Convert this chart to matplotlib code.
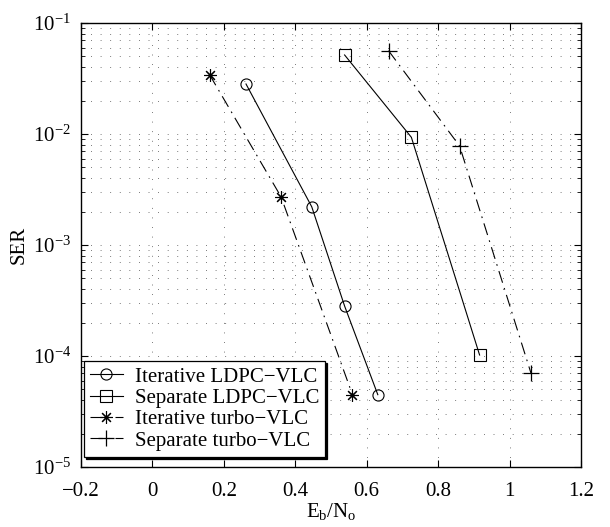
import matplotlib

matplotlib.use("Agg")
import matplotlib.pyplot as plt
from matplotlib.ticker import LogLocator, NullFormatter

plt.rcParams.update(
    {
        "font.family": "Liberation Serif",
        "mathtext.fontset": "custom",
        "mathtext.rm": "Liberation Serif",
        "mathtext.it": "Liberation Serif:italic",
        "font.size": 14,
    }
)

# Eb/No values and SER
iter_ldpc_x = [0.262, 0.446, 0.538, 0.631]
iter_ldpc_y = [2.82e-2, 2.21e-3, 2.82e-4, 4.48e-5]

sep_ldpc_x = [0.538, 0.725, 0.916]
sep_ldpc_y = [5.15e-2, 9.33e-3, 1.02e-4]

iter_turbo_x = [0.160, 0.360, 0.560]
iter_turbo_y = [3.42e-2, 2.72e-3, 4.48e-5]

sep_turbo_x = [0.661, 0.860, 1.060]
sep_turbo_y = [5.63e-2, 7.8e-3, 6.98e-5]

labels = [
    "Iterative LDPC\u2212VLC",
    "Separate LDPC\u2212VLC",
    "Iterative turbo\u2212VLC",
    "Separate turbo\u2212VLC",
]
x_ticks = [-0.2, 0, 0.2, 0.4, 0.6, 0.8, 1.0, 1.2]
x_tick_labels = ["\u22120.2", "0", "0.2", "0.4", "0.6", "0.8", "1", "1.2"]

fig = plt.figure(figsize=(6.10, 5.27), dpi=100)
ax = fig.add_axes([0.1328, 0.1139, 0.8197, 0.8425])

dashdot = (0, (11, 5, 1.5, 5))
ax.plot(iter_ldpc_x, iter_ldpc_y, color="black", lw=0.8, marker="o",
        markersize=8, markerfacecolor="none", markeredgewidth=0.8, label=labels[0])
ax.plot(sep_ldpc_x, sep_ldpc_y, color="black", lw=0.8, marker="s",
        markersize=8, markerfacecolor="none", markeredgewidth=0.8, label=labels[1])
ax.plot(iter_turbo_x, iter_turbo_y, color="black", lw=0.8, linestyle=dashdot,
        marker=(8, 2, 0), markersize=9, markeredgewidth=0.8, label=labels[2])
ax.plot(sep_turbo_x, sep_turbo_y, color="black", lw=0.8, linestyle=dashdot,
        marker="+", markersize=11, markeredgewidth=0.9, label=labels[3])

ax.set_yscale("log")
ax.set_xlim(-0.2, 1.2)
ax.set_ylim(1e-5, 1e-1)
ax.set_xticks(x_ticks)
ax.set_xticklabels(x_tick_labels)
ax.yaxis.set_major_locator(LogLocator(base=10, numticks=10))
ax.yaxis.set_minor_locator(LogLocator(base=10, subs=range(2, 10), numticks=50))
ax.yaxis.set_minor_formatter(NullFormatter())

grid_style = dict(color="0.3", linestyle=(0, (1, 10.5)), linewidth=0.6)
ax.grid(True, which="major", axis="both", **grid_style)
ax.grid(True, which="minor", axis="y", **grid_style)
ax.set_axisbelow(True)

ax.tick_params(which="both", direction="in", top=True, right=True, labelsize=15)
ax.tick_params(which="major", length=5)
ax.tick_params(axis="x", which="major", pad=11)
ax.tick_params(axis="y", which="major", pad=7)
ax.tick_params(which="minor", length=3)
for spine in ax.spines.values():
    spine.set_linewidth(1.0)

ax.set_xlabel("E$_\\mathrm{b}$/N$_\\mathrm{o}$", fontsize=15, labelpad=0)
ax.set_ylabel("SER", fontsize=15, labelpad=3)

leg = ax.legend(
    loc="lower left",
    bbox_to_anchor=(0.006, 0.023),
    borderaxespad=0,
    fancybox=False,
    framealpha=1,
    edgecolor="black",
    fontsize=15,
    handlelength=1.55,
    handletextpad=0.58,
    labelspacing=0.08,
    borderpad=0.3,
    shadow={"color": "black", "alpha": 1.0, "ox": 1.5, "oy": -1.5},
)
leg.get_frame().set_linewidth(0.9)

fig.savefig("out.png", dpi=100)
